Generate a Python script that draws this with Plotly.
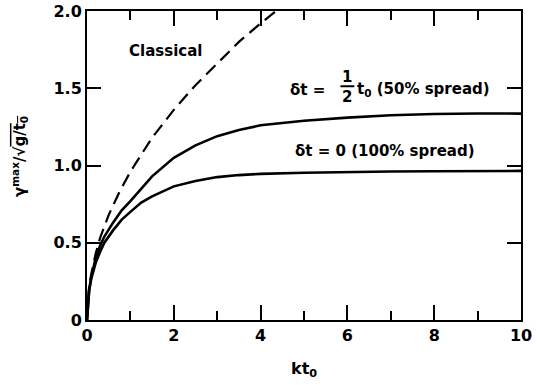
import plotly.graph_objects as go

# ---- data ----
classical_x = [0, 0.05, 0.1, 0.2, 0.3, 0.5, 0.75, 1.0, 1.5, 2.0, 2.5, 3.0, 3.5, 4.0, 4.4]
classical_y = [0, 0.22, 0.30, 0.43, 0.53, 0.68, 0.83, 0.96, 1.18, 1.36, 1.52, 1.66, 1.80, 1.92, 2.01]

spread_x = [0, 0.05, 0.1, 0.2, 0.3, 0.4, 0.6, 0.8, 1.0, 1.25, 1.5, 2.0, 2.5, 3.0, 3.5, 4.0,
            5.0, 6.0, 7.0, 8.0, 9.0, 10.0]
spread50_y = [0, 0.20, 0.28, 0.40, 0.48, 0.54, 0.63, 0.71, 0.77, 0.85, 0.93, 1.05, 1.13, 1.19,
              1.23, 1.26, 1.29, 1.31, 1.325, 1.333, 1.337, 1.336]
spread100_y = [0, 0.19, 0.27, 0.37, 0.44, 0.50, 0.58, 0.65, 0.70, 0.76, 0.80, 0.865, 0.90, 0.925,
               0.938, 0.946, 0.953, 0.958, 0.961, 0.963, 0.964, 0.965]

x_tick_step = 2
x_minor_step = 1
y_tick_step = 0.5
y_label_alias = {"0.0": "0"}   # tick labels: 0, 0.5, 1.0, 1.5, 2.0

FONT = "DejaVu Sans"
BLACK = "black"

fig = go.Figure()
fig.add_trace(go.Scatter(x=classical_x, y=classical_y, mode="lines",
                         line=dict(color=BLACK, width=2.2, dash="13px,7px"),
                         showlegend=False))
fig.add_trace(go.Scatter(x=spread_x, y=spread50_y, mode="lines",
                         line=dict(color=BLACK, width=2.6), showlegend=False))
fig.add_trace(go.Scatter(x=spread_x, y=spread100_y, mode="lines",
                         line=dict(color=BLACK, width=2.6), showlegend=False))

tickfont = dict(family=FONT, size=16, color=BLACK, weight="bold")
lblfont = dict(family=FONT, size=15, color=BLACK)

fig.update_xaxes(range=[0, 10], tickmode="linear", tick0=0, dtick=x_tick_step,
                 ticks="inside", ticklen=15, tickwidth=2, tickcolor=BLACK,
                 minor=dict(dtick=x_minor_step, ticks="inside", ticklen=9, tickwidth=2,
                            tickcolor=BLACK),
                 showline=True, linewidth=2, linecolor=BLACK, mirror="ticks",
                 showgrid=False, tickfont=tickfont, automargin=False)
fig.update_yaxes(range=[0, 2.0], tickmode="linear", tick0=0, dtick=y_tick_step,
                 tickformat=".1f", labelalias=y_label_alias,
                 ticks="inside", ticklen=14, tickwidth=2, tickcolor=BLACK,
                 showline=True, linewidth=2, linecolor=BLACK, mirror="ticks",
                 showgrid=False, tickfont=tickfont, automargin=False)

ann = []
ann.append(dict(x=1.80, y=1.738, xref="x", yref="y", text="<b>Classical</b>", showarrow=False,
                font=lblfont, xanchor="center", yanchor="middle"))
ann.append(dict(x=6.87, y=1.093, xref="x", yref="y", text="<b>&#948;t = 0 (100% spread)</b>",
                showarrow=False, font=lblfont, xanchor="center", yanchor="middle"))
ann.append(dict(x=4.63, y=1.49, xref="x", yref="y", text="<b>&#948;t = </b>", showarrow=False,
                font=lblfont, xanchor="left", yanchor="middle"))
ann.append(dict(x=6.00, y=1.574, xref="x", yref="y", text="<b>1</b>", showarrow=False,
                font=lblfont, xanchor="center", yanchor="middle"))
ann.append(dict(x=6.00, y=1.442, xref="x", yref="y", text="<b>2</b>", showarrow=False,
                font=lblfont, xanchor="center", yanchor="middle"))
ann.append(dict(x=6.17, y=1.489, xref="x", yref="y", text="<b>t<sub>0</sub> (50% spread)</b>",
                showarrow=False, font=lblfont, xanchor="left", yanchor="middle"))
# axis titles
ann.append(dict(x=0.5, y=-0.160, xref="paper", yref="paper", text="<b>kt<sub>0</sub></b>",
                showarrow=False, font=dict(family=FONT, size=16, color=BLACK),
                xanchor="center", yanchor="middle"))
ann.append(dict(x=-0.157, y=0.53, xref="paper", yref="paper",
                text="<b>&#947;<sup>max</sup>/&#8730;<span style='text-decoration:overline'>g/t<sub>0</sub></span></b>",
                showarrow=False, textangle=-90,
                font=dict(family=FONT, size=15, color=BLACK),
                xanchor="center", yanchor="middle"))

fig.update_layout(
    width=537, height=385,
    margin=dict(l=87, r=16, t=11, b=65, autoexpand=False),
    paper_bgcolor="white", plot_bgcolor="white",
    annotations=ann,
    shapes=[dict(type="line", xref="x", yref="y", x0=5.84, x1=6.16, y0=1.513, y1=1.513,
                 line=dict(color=BLACK, width=2))],
)

fig.write_html("out.html")
